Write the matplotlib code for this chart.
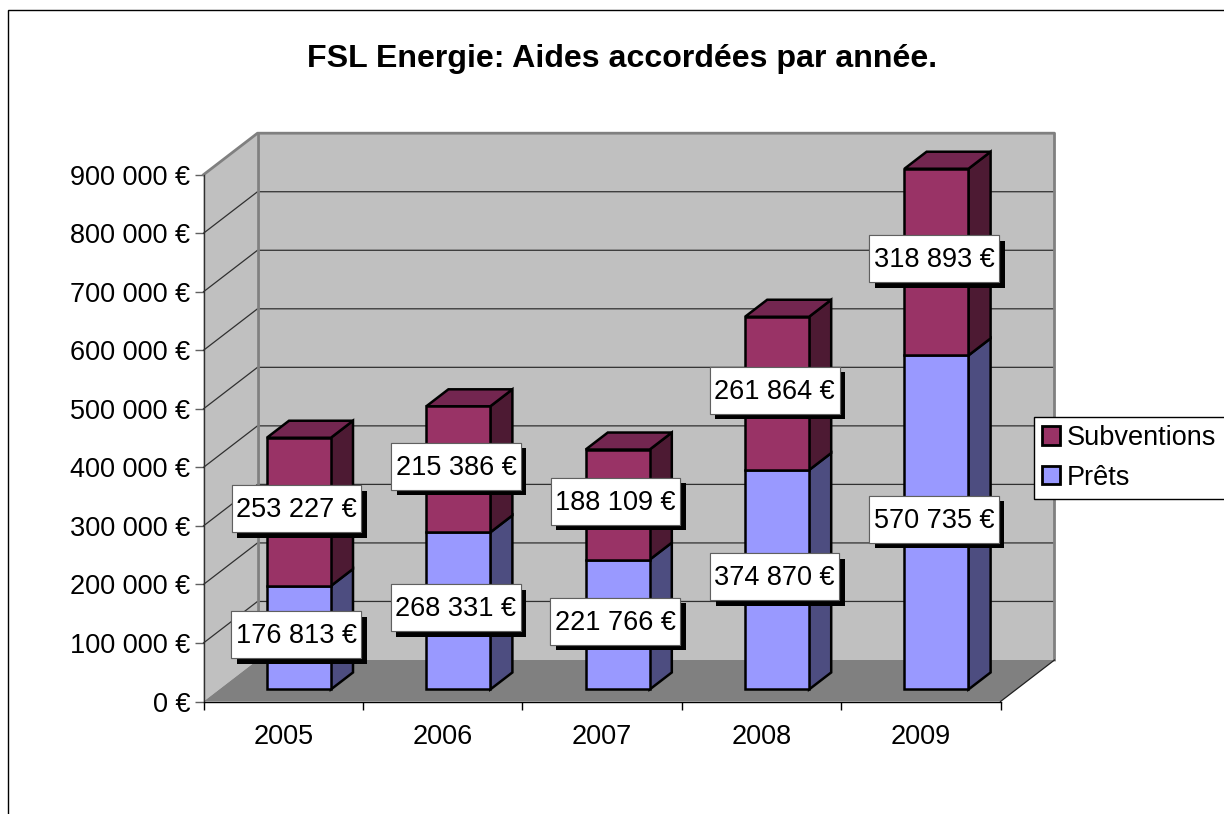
import matplotlib
matplotlib.use("Agg")
import matplotlib.pyplot as plt
import matplotlib.patheffects as pe
from matplotlib.patches import Patch, Polygon, Rectangle
from matplotlib.path import Path

plt.rcParams['font.family'] = ['Liberation Sans', 'DejaVu Sans']

years = ['2005', '2006', '2007', '2008', '2009']
prets = [176813, 268331, 221766, 374870, 570735]
subventions = [253227, 215386, 188109, 261864, 318893]
yticks = [0, 100000, 200000, 300000, 400000, 500000, 600000, 700000, 800000, 900000]
title = 'FSL Energie: Aides accordées par année.'

W, H = 1224, 814
FS = 19.5

# axis box in pixels
X0, X1, Y0, Y1 = 203.5, 1000.5, 701.5, 174.7
DX = 54 / ((X1 - X0) / 5)               # full depth in category units
DY = 41.5 * 900000 / (Y0 - Y1)          # full depth in euros
BAR_W = 64 / ((X1 - X0) / 5)
D_FRONT, D_BACK = 0.29, 0.70


def fmt(v):
    return f'{v:,}'.replace(',', ' ') + ' €'


def proj(x, y, d=0.0):
    return (x + DX * d, y + DY * d)


def poly(ax, pts, fc, ec='none', lw=0, z=1):
    ax.add_patch(Polygon(pts, closed=True, fc=fc, ec=ec, lw=lw, zorder=z,
                         clip_on=False, joinstyle='miter'))


def bar3d(ax, x, y0, y1, front, side, top=None):
    xl, xr = x - BAR_W / 2, x + BAR_W / 2
    a, b = D_FRONT, D_BACK
    poly(ax, [proj(xr, y0, a), proj(xr, y0, b), proj(xr, y1, b), proj(xr, y1, a)],
         side, 'black', 1.8, 4)
    if top:
        poly(ax, [proj(xl, y1, a), proj(xr, y1, a), proj(xr, y1, b), proj(xl, y1, b)],
             top, 'black', 1.8, 4)
    poly(ax, [proj(xl, y0, a), proj(xr, y0, a), proj(xr, y1, a), proj(xl, y1, a)],
         front, 'black', 1.8, 5)


def label_box(x0, y0, width, height, mutation_size):
    # box a little wider than the text, and much taller
    px, py = 4.5, 23.5 - height / 2
    left, right = x0 - px, x0 + width + px
    low, up = y0 - py + 1.5, y0 + height + py + 1.5
    return Path([(left, low), (right, low), (right, up), (left, up), (left, low)], closed=True)


fig = plt.figure(figsize=(W / 100, H / 100), dpi=100, facecolor='white')
ax = fig.add_axes([X0 / W, 1 - Y0 / H, (X1 - X0) / W, (Y0 - Y1) / H])
ax.set_xlim(-0.5, 4.5)
ax.set_ylim(0, 900000)
ax.patch.set_visible(False)

# outer frame, runs off the right and bottom of the picture
fig.add_artist(Rectangle((8.0 / W, -0.1), 1.2, 1.1 - 10.5 / H, transform=fig.transFigure,
                         fc='none', ec='black', lw=1))

xa, xb = -0.5, 4.5
ytop = yticks[-1]
# walls and floor
poly(ax, [proj(xa, 0, 1), proj(xb, 0, 1), proj(xb, ytop, 1), proj(xa, ytop, 1)], '#C0C0C0', z=1)
poly(ax, [proj(xa, 0, 0), proj(xa, 0, 1), proj(xa, ytop, 1), proj(xa, ytop, 0)], '#C0C0C0', z=1)
poly(ax, [proj(xa, 0, 0), proj(xb, 0, 0), proj(xb, 0, 1), proj(xa, 0, 1)], '#808080', z=1.5)

for v in yticks[1:-1]:
    pts = [proj(xa, v, 0), proj(xa, v, 1), proj(xb, v, 1)]
    ax.plot(*zip(*pts), color='#303030', lw=0.9, zorder=2, clip_on=False)

# thick grey edges of the walls
ax.plot(*zip(proj(xa, ytop, 0), proj(xa, ytop, 1), proj(xb, ytop, 1), proj(xb, 0, 1)),
        color='#808080', lw=2, zorder=2.5, clip_on=False)
ax.plot(*zip(proj(xa, 0, 1), proj(xa, ytop, 1)), color='#808080', lw=2, zorder=2.5, clip_on=False)
ax.plot(*zip(proj(xb, 0, 0), proj(xb, 0, 1)), color='#202020', lw=0.9, zorder=2.5, clip_on=False)

for i in range(len(years)):
    p, s = prets[i], subventions[i]
    bar3d(ax, i, 0, p, '#9999FF', '#4D4D80')
    bar3d(ax, i, p, p + s, '#993366', '#4D1A33', '#732650')

for i in range(len(years)):
    p, s = prets[i], subventions[i]
    for val, mid in ((p, p / 2), (s, p + s / 2)):
        x, y = proj(i, mid, D_FRONT)
        t = ax.annotate(fmt(val), xy=(x, y), xytext=(-1.7, 1.2), textcoords='offset points',
                        ha='center', va='center', fontsize=FS, color='black', zorder=7,
                        annotation_clip=False,
                        bbox=dict(boxstyle=label_box, fc='white', ec='#606060', lw=0.8))
        t.get_bbox_patch().set_path_effects([
            pe.withSimplePatchShadow(offset=(4, -4), shadow_rgbFace='black', alpha=1.0),
            pe.Normal()])

# axes
for name in ('top', 'right'):
    ax.spines[name].set_visible(False)
ax.spines['left'].set_color('#303030')
ax.spines['bottom'].set_color('black')
for sp in ('left', 'bottom'):
    ax.spines[sp].set_linewidth(1)
    ax.spines[sp].set_zorder(3)

ax.set_yticks(yticks)
ax.set_yticklabels([fmt(v) for v in yticks], fontsize=FS)
ax.set_xticks(range(len(years)))
ax.set_xticklabels(years, fontsize=FS)
ax.set_xticks([i - 0.5 for i in range(len(years) + 1)], minor=True)
ax.tick_params(axis='y', length=6.5, width=1, pad=3, color='#606060')
ax.tick_params(axis='x', which='major', length=0, pad=16)
ax.tick_params(axis='x', which='minor', length=6, width=1, color='black')

fig.text(622 / W, 1 - 58.5 / H, title, ha='center', va='center', fontsize=23.1,
         fontweight='bold')

handles = [Patch(fc='#993366', ec='black', lw=2), Patch(fc='#9999FF', ec='black', lw=2)]
leg = ax.legend(handles, ['Subventions', 'Prêts'], loc='upper left',
                bbox_to_anchor=(1034 / W, 1 - 417 / H), bbox_transform=fig.transFigure,
                fontsize=FS, frameon=True, fancybox=False, framealpha=1, edgecolor='black',
                borderaxespad=0, borderpad=0.3, handlelength=0.67, handleheight=0.67,
                handletextpad=0.25, labelspacing=0.5)
leg.get_frame().set_linewidth(1)
leg.set_zorder(8)

fig.savefig('out.png', dpi=100)
